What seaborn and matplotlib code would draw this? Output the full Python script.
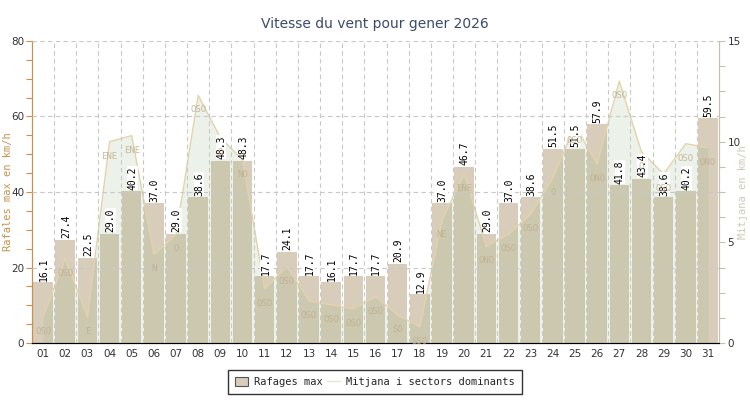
import numpy as np
import pandas as pd
import seaborn as sns
import matplotlib.pyplot as plt
import matplotlib.transforms as mtransforms
from matplotlib.patches import Patch
from matplotlib.lines import Line2D

# Données du mois
jours = [f"{d:02d}" for d in range(1, 32)]
rafales = [16.1, 27.4, 22.5, 29.0, 40.2, 37.0, 29.0, 38.6, 48.3, 48.3,
           17.7, 24.1, 17.7, 16.1, 17.7, 17.7, 20.9, 12.9, 37.0, 46.7,
           29.0, 37.0, 38.6, 51.5, 51.5, 57.9, 41.8, 43.4, 38.6, 40.2, 59.5]
mitjana = [1.3, 4.2, 1.3, 10.0, 10.3, 4.4, 5.4, 12.3, 10.2, 9.1,
           2.7, 3.8, 2.1, 1.9, 1.7, 2.3, 1.4, 0.8, 6.1, 8.4,
           4.8, 5.4, 6.4, 8.2, 10.8, 8.9, 13.0, 9.5, 8.4, 9.9, 9.7]
secteurs = ["OSO", "OSO", "E", "ENE", "ENE", "N", "O", "OSO", "O", "NO",
            "OSO", "OSO", "OSO", "OSO", "OSO", "OSO", "SO", "SSO", "NE", "ENE",
            "ONO", "OSO", "OSO", "O", "OSO", "ONO", "OSO", "O", "OSO", "OSO", "ONO"]

df = pd.DataFrame({"jour": jours, "rafales": rafales, "mitjana": mitjana})

sns.set_style("white")
plt.rcParams["font.family"] = ["DejaVu Sans"]
mono = "DejaVu Sans Mono"
narrow = ["Liberation Sans Narrow", "DejaVu Sans"]

c_bar = "#d8ccbb"
c_left = "#c8914a"
c_right = "#d0c8b8"
c_grid = "#c8c8c8"

fig = plt.figure(figsize=(7.5, 4), dpi=100)
ax = fig.add_axes([32 / 750, 1 - 343 / 400, 687 / 750, 302 / 400])
ax2 = ax.twinx()

# 📊 barres des rafales
sns.barplot(data=df, x="jour", y="rafales", order=jours, color=c_bar,
            width=0.88, saturation=1, edgecolor="none", ax=ax)
ax.set_xlim(-0.5, 30.5)
ax.set_ylim(0, 80)

# 📊 vent moyen (zone + ligne)
pos = np.arange(len(jours))
ax2.fill_between(pos, 0, mitjana, color=(142 / 255, 180 / 255, 124 / 255), alpha=0.16, lw=0)
sns.lineplot(x=pos, y=mitjana, color="#e3d3ab", lw=1, ax=ax2)
ax2.set_ylim(0, 15)
ax2.set_xlim(-0.5, 30.5)

# grille pointillée au-dessus
tr = mtransforms.blended_transform_factory(ax2.transAxes, ax.transData)
for yv in [20, 40, 60, 80]:
    ax2.plot([0, 1], [yv, yv], transform=tr, color=c_grid, lw=0.8, ls=(0, (4, 3)), zorder=3)
for xv in np.arange(0.5, 30.5, 1):
    ax2.axvline(xv, color=c_grid, lw=0.8, ls=(0, (4, 3)), zorder=3)

# étiquettes de valeurs
for i, v in enumerate(rafales):
    ax2.annotate(f"{v:.1f}", xy=(i, v), xycoords=("data", ax.transData),
                 xytext=(0.5, 1.2), textcoords="offset points", rotation=90,
                 ha="center", va="bottom", fontsize=7, family=mono, color="black",
                 bbox=dict(facecolor="white", edgecolor="none", pad=0.3), zorder=4)

# secteurs dominants
for i, (m, s) in enumerate(zip(mitjana, secteurs)):
    ax2.annotate(s, xy=(i, m), xytext=(0, -10.5), textcoords="offset points",
                 ha="center", va="center", fontsize=6.5, family=mono,
                 color="#bfae8e", alpha=0.85, zorder=5)

# axes
ax.set_xlabel("")
ax.set_xticks(pos)
ax.set_xticklabels(jours, fontsize=7.5, family=narrow, color="#333333")
ax.set_xticks(np.arange(0.5, 30.5, 1), minor=True)
ax.tick_params(axis="x", which="major", length=0, pad=4)
ax.tick_params(axis="x", which="minor", direction="in", length=5, color="black", width=1)

ax.set_yticks([0, 20, 40, 60, 80])
ax.set_yticks(np.arange(0, 81, 5), minor=True)
ax.set_yticklabels(["0", "20", "40", "60", "80"], fontsize=7.5, family=narrow, color="#333333")
ax.tick_params(axis="y", which="both", length=4, color=c_left, width=0.8, pad=1.5)
ax.set_ylabel("Rafales max en km/h", family=mono, fontsize=7.5, color=c_left)
ax.yaxis.set_label_coords(-0.028, 0.5)

ax2.set_yticks([0, 5, 10, 15])
ax2.set_yticks(np.arange(0, 15.01, 1.25), minor=True)
ax2.set_yticklabels(["0", "5", "10", "15"], fontsize=7.5, family=narrow, color="#333333")
ax2.tick_params(axis="y", which="both", length=4, color="#c8bfae", width=0.8, pad=2)
ax2.set_ylabel("Mitjana en km/h", family=mono, fontsize=7.5, color=c_right, rotation=90)
ax2.yaxis.set_label_coords(1.028, 0.5)

for a in (ax, ax2):
    a.spines["top"].set_visible(False)
    a.spines["left"].set_color(c_left)
    a.spines["right"].set_color("#c8bfae")
    a.spines["bottom"].set_color("black")
    a.grid(False)

fig.text(0.5, 1 - 24 / 400, "Vitesse du vent pour gener 2026", ha="center", va="center",
         fontsize=10, family=narrow, color="#3d4a6b")

handles = [Patch(facecolor=c_bar, edgecolor="#555555", lw=0.8),
           Line2D([0], [0], color="#ece3cc", lw=1)]
leg = fig.legend(handles, ["Rafages max", "Mitjana i sectors dominants"],
                 loc="center", bbox_to_anchor=(0.5, 1 - 382 / 400), ncol=2,
                 fancybox=False, frameon=True, edgecolor="black",
                 prop={"family": mono, "size": 7.5}, handlelength=1.2,
                 handleheight=1.0, columnspacing=0.4, handletextpad=0.6,
                 borderpad=0.7, borderaxespad=0)
leg.get_frame().set_linewidth(1)

fig.savefig("out.png", dpi=100)
